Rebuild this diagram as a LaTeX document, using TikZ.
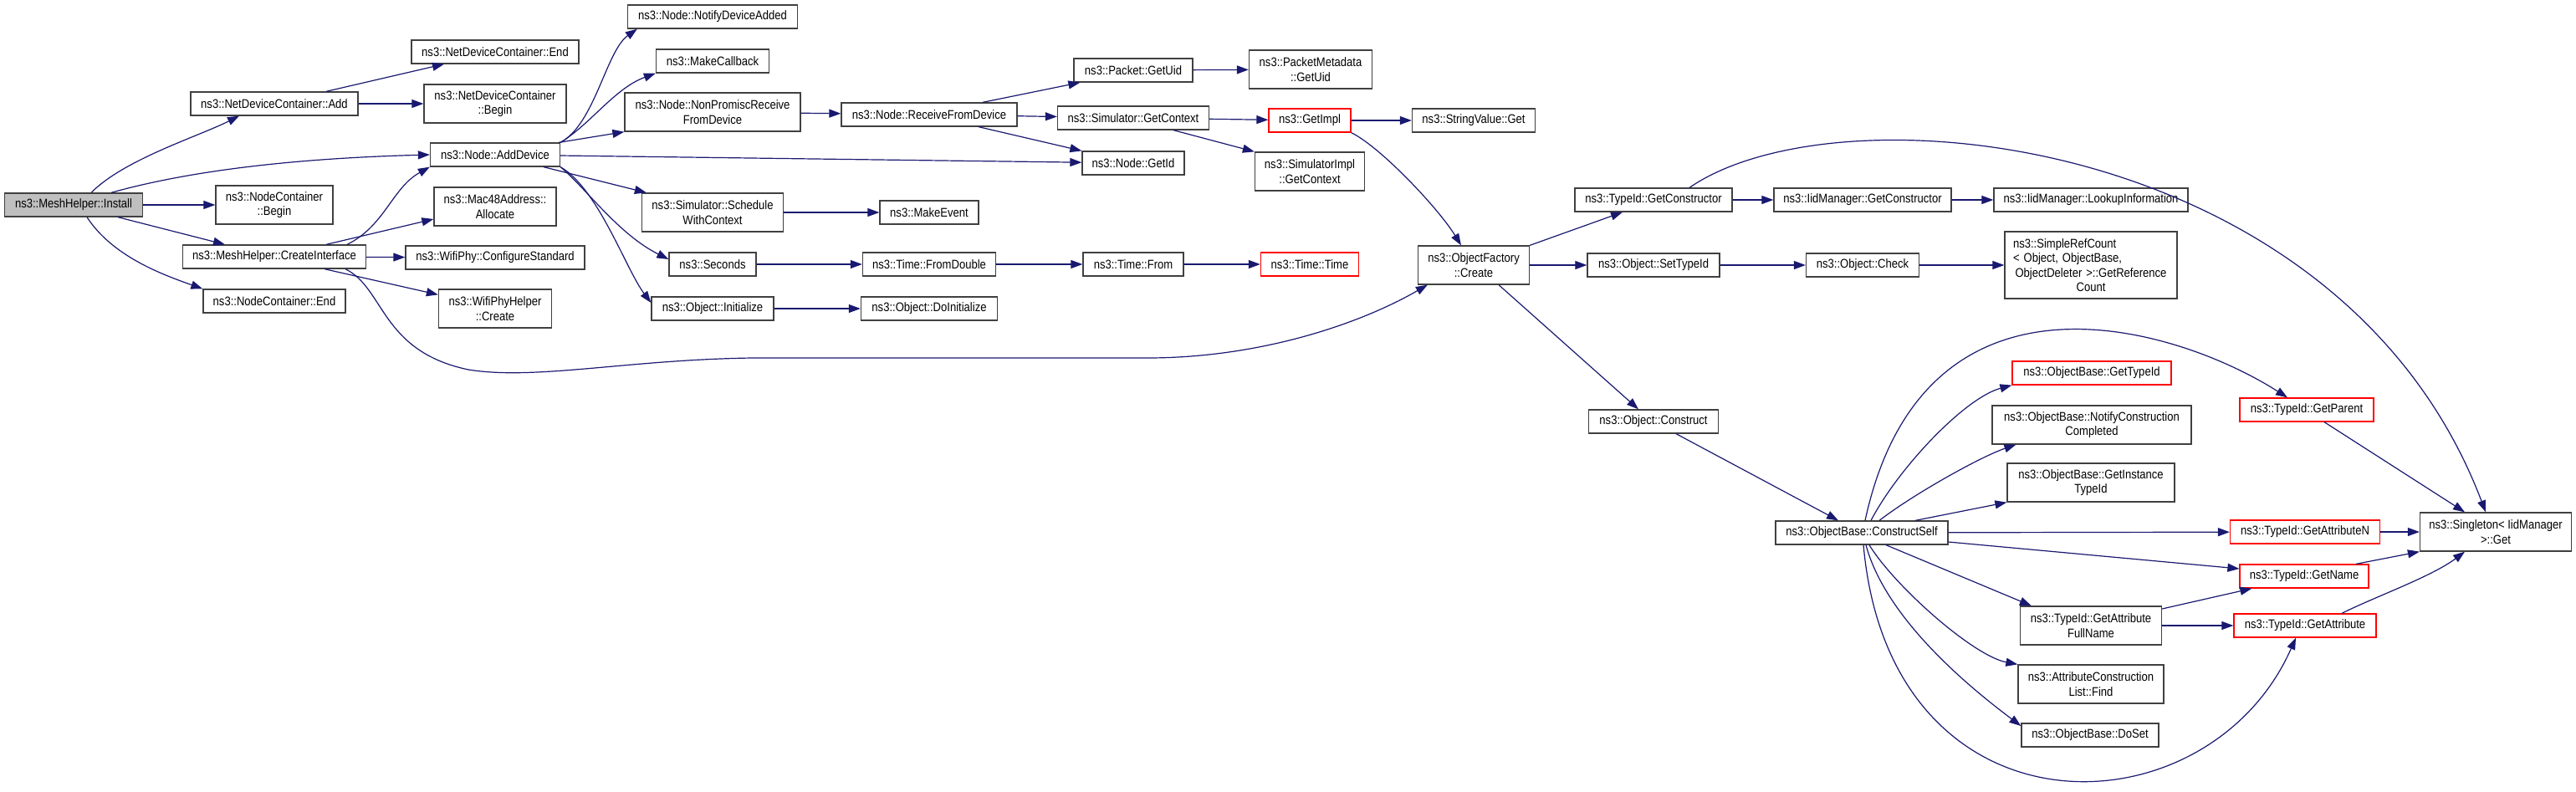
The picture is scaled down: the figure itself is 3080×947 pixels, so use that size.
\documentclass[tikz,border=0pt]{standalone}
\usepackage{fontspec}
\setmainfont{Liberation Sans}[FakeStretch=0.87]
\usetikzlibrary{arrows.meta}
\definecolor{edgeblue}{HTML}{191970}
\definecolor{boxgray}{HTML}{404040}
\definecolor{rootgray}{HTML}{BFBFBF}
\definecolor{boxred}{HTML}{FF0000}

\begin{document}
\begin{tikzpicture}[x=1pt, y=-1pt,
    every node/.style={font=\fontsize{15}{17.5}\selectfont},
    fnbox/.style={draw=boxgray, line width=1.3pt, fill=white, minimum height=28pt, inner sep=3pt, align=center},
    fnred/.style={fnbox, draw=boxred},
    fnroot/.style={fnbox, fill=rootgray},
    call/.style={draw=edgeblue, line width=1.2pt, -{Triangle[length=14pt,width=10pt]}}]

    \useasboundingbox (0,0) rectangle (3080,947);

    % --- Colonna 1-3: MeshHelper ---
    \node[fnroot, minimum width=165pt] (inst) at (88,245) {ns3::MeshHelper::Install};
    \node[fnbox, minimum width=200pt] (ndcadd) at (328,124) {ns3::NetDeviceContainer::Add};
    \node[fnbox, minimum width=140pt, minimum height=46pt] (ncbegin) at (328,245) {ns3::NodeContainer\\::Begin};
    \node[fnbox, minimum width=219pt] (cif) at (328,307) {ns3::MeshHelper::CreateInterface};
    \node[fnbox, minimum width=170pt] (ncend) at (328,360) {ns3::NodeContainer::End};

    \node[fnbox, minimum width=200pt] (ndcend) at (592,62) {ns3::NetDeviceContainer::End};
    \node[fnbox, minimum width=170pt, minimum height=46pt] (ndcbegin) at (592,124) {ns3::NetDeviceContainer\\::Begin};
    \node[fnbox, minimum width=155pt] (adddev) at (592,185) {ns3::Node::AddDevice};
    \node[fnbox, minimum width=146pt, minimum height=46pt] (macalloc) at (592,247) {ns3::Mac48Address::\\Allocate};
    \node[fnbox, minimum width=214pt] (wificonf) at (592,308) {ns3::WifiPhy::ConfigureStandard};
    \node[fnbox, minimum width=135pt, minimum height=46pt] (wificreate) at (592,369) {ns3::WifiPhyHelper\\::Create};

    % --- Colonna 4-8: Node, Simulator, Time ---
    \node[fnbox, minimum width=203pt] (notify) at (852,20) {ns3::Node::NotifyDeviceAdded};
    \node[fnbox, minimum width=135pt] (makecb) at (852,73) {ns3::MakeCallback};
    \node[fnbox, minimum width=210pt, minimum height=46pt] (nonprom) at (852,134) {ns3::Node::NonPromiscReceive\\FromDevice};
    \node[fnbox, minimum width=169pt, minimum height=46pt] (sched) at (852,254) {ns3::Simulator::Schedule\\WithContext};
    \node[fnbox, minimum width=104pt] (seconds) at (852,316) {ns3::Seconds};
    \node[fnbox, minimum width=146pt] (objinit) at (852,369) {ns3::Object::Initialize};

    \node[fnbox, minimum width=210pt] (recv) at (1111,137) {ns3::Node::ReceiveFromDevice};
    \node[fnbox, minimum width=118pt] (makeevent) at (1111,254) {ns3::MakeEvent};
    \node[fnbox, minimum width=159pt] (fromdouble) at (1111,316) {ns3::Time::FromDouble};
    \node[fnbox, minimum width=163pt] (doinit) at (1111,369) {ns3::Object::DoInitialize};

    \node[fnbox, minimum width=142pt] (pktuid) at (1355,84) {ns3::Packet::GetUid};
    \node[fnbox, minimum width=181pt] (simctx) at (1355,141) {ns3::Simulator::GetContext};
    \node[fnbox, minimum width=122pt] (getid) at (1355,195) {ns3::Node::GetId};
    \node[fnbox, minimum width=120pt] (timefrom) at (1355,316) {ns3::Time::From};

    \node[fnbox, minimum width=147pt, minimum height=46pt] (pmuid) at (1567,83) {ns3::PacketMetadata\\::GetUid};
    \node[fnred, minimum width=98pt] (getimpl) at (1566,144) {ns3::GetImpl};
    \node[fnbox, minimum width=131pt, minimum height=46pt] (simimplctx) at (1566,205) {ns3::SimulatorImpl\\::GetContext};
    \node[fnred, minimum width=117pt] (timetime) at (1566,316) {ns3::Time::Time};

    \node[fnbox, minimum width=147pt] (strget) at (1762,144) {ns3::StringValue::Get};
    \node[fnbox, minimum width=133pt, minimum height=46pt] (ofcreate) at (1762,317) {ns3::ObjectFactory\\::Create};

    % --- Colonna 9-13: Object, TypeId ---
    \node[fnbox, minimum width=188pt] (tidctor) at (1977,239) {ns3::TypeId::GetConstructor};
    \node[fnbox, minimum width=158pt] (settypeid) at (1977,317) {ns3::Object::SetTypeId};
    \node[fnbox, minimum width=155pt] (objconstruct) at (1977,504) {ns3::Object::Construct};

    \node[fnbox, minimum width=212pt] (iidctor) at (2227,239) {ns3::IidManager::GetConstructor};
    \node[fnbox, minimum width=135pt] (objcheck) at (2227,317) {ns3::Object::Check};
    \node[fnbox, minimum width=206pt] (cself) at (2226,637) {ns3::ObjectBase::ConstructSelf};

    \node[fnbox, minimum width=232pt] (lookup) at (2500,239) {ns3::IidManager::LookupInformation};
    \node[fnbox, minimum width=206pt, minimum height=80pt, text width=186pt, align=left] (simpleref) at (2500,317)
    {ns3::SimpleRefCount\\ < Object, ObjectBase,\\ \makebox[186pt]{ObjectDeleter >::GetReference}\\ \makebox[186pt]{Count}};
    \node[fnred, minimum width=190pt] (gettypeid) at (2501,446) {ns3::ObjectBase::GetTypeId};
    \node[fnbox, minimum width=238pt, minimum height=46pt] (notifycc) at (2501,508) {ns3::ObjectBase::NotifyConstruction\\Completed};
    \node[fnbox, minimum width=200pt, minimum height=46pt] (insttid) at (2500,577) {ns3::ObjectBase::GetInstance\\TypeId};
    \node[fnbox, minimum width=169pt, minimum height=46pt] (fullname) at (2500,748) {ns3::TypeId::GetAttribute\\FullName};
    \node[fnbox, minimum width=174pt, minimum height=46pt] (attrfind) at (2500,818) {ns3::AttributeConstruction\\List::Find};
    \node[fnbox, minimum width=164pt] (doset) at (2499,879) {ns3::ObjectBase::DoSet};

    \node[fnred, minimum width=160pt] (getparent) at (2758,490) {ns3::TypeId::GetParent};
    \node[fnred, minimum width=179pt] (getattrn) at (2756,636) {ns3::TypeId::GetAttributeN};
    \node[fnred, minimum width=154pt] (getname) at (2755,689) {ns3::TypeId::GetName};
    \node[fnred, minimum width=170pt] (getattr) at (2756,748) {ns3::TypeId::GetAttribute};
    \node[fnbox, minimum width=181pt, minimum height=46pt] (singleton) at (2984,636) {ns3::Singleton< IidManager\\>::Get};

    % --- Chiamate: MeshHelper ---
    \draw[call] ([xshift=21pt]inst.north) .. controls +(40,-40) and +(-50,25) .. ([xshift=-42pt]ndcadd.south);
    \draw[call] ([xshift=45pt]inst.north) .. controls +(100,-28) and +(-151,4) .. (adddev.west);
    \draw[call] (inst) -- (ncbegin);
    \draw[call] ([xshift=53pt]inst.south) -- ([xshift=-59pt]cif.north);
    \draw[call] ([xshift=16pt]inst.south) .. controls +(30,46) and +(-51,-18) .. (ncend.north west);
    \draw[call] ([xshift=62pt]ndcadd.north) -- ([xshift=-61pt]ndcend.south);
    \draw[call] (ndcadd) -- (ndcbegin);
    \draw[call] ([xshift=87pt]cif.north) .. controls +(45,-22) and +(-45,25) .. (adddev.south west);
    \draw[call] ([xshift=62pt]cif.north) -- ([yshift=-15pt]macalloc.west);
    \draw[call] (cif) -- (wificonf);
    \draw[call] ([xshift=60pt]cif.south) -- ([yshift=-7pt]wificreate.north west);
    \draw[call] ([xshift=85pt]cif.south) .. controls +(47,23) and +(-105,-22) .. (560,442)
    .. controls +(80,13) and +(-150,2) .. (900,428) -- (1372,428)
    .. controls +(128,0) and +(-87,50) .. ([xshift=12pt]ofcreate.south west);

    % --- Chiamate: Node::AddDevice ---
    \draw[call] (adddev.north east) .. controls +(41,-22) and +(-37,26) .. ([xshift=12pt]notify.south west);
    \draw[call] (adddev.north east) .. controls +(36,-22) and +(-49,18) .. (makecb.south west);
    \draw[call] ([xshift=-2pt]adddev.north east) -- (nonprom.south west);
    \draw[call] (adddev) -- (getid);
    \draw[call] ([xshift=58pt]adddev.south) -- ([xshift=6pt]sched.north west);
    \draw[call] (adddev.south east) .. controls +(31,26) and +(-60,-30) .. ([yshift=6pt]seconds.west);
    \draw[call] (adddev.south east) .. controls +(45,26) and +(-30,-40) .. ([yshift=7pt]objinit.west);

    \draw[call] (nonprom) -- (recv);
    \draw[call] ([xshift=64pt]recv.north) -- ([xshift=8pt]pktuid.south west);
    \draw[call] (recv) -- (simctx);
    \draw[call] ([xshift=59pt]recv.south) -- (getid.north west);
    \draw[call] (sched) -- (makeevent);
    \draw[call] (seconds) -- (fromdouble);
    \draw[call] (fromdouble) -- (timefrom);
    \draw[call] (objinit) -- (doinit);
    \draw[call] (pktuid) -- (pmuid);
    \draw[call] (simctx) -- (getimpl);
    \draw[call] ([xshift=48pt]simctx.south) -- (simimplctx.north west);
    \draw[call] (timefrom) -- (timetime);
    \draw[call] (getimpl) -- (strget);
    \draw[call] (getimpl.south east) .. controls +(35,17) and +(-27,-44) .. ([xshift=-15pt]ofcreate.north);

    % --- Chiamate: ObjectFactory, TypeId ---
    \draw[call] (ofcreate.north east) -- ([xshift=-37pt]tidctor.south);
    \draw[call] (ofcreate) -- (settypeid);
    \draw[call] ([xshift=30pt]ofcreate.south) -- ([xshift=-18pt]objconstruct.north);
    \draw[call] (tidctor) -- (iidctor);
    \draw[call] ([xshift=43pt]tidctor.north) .. controls +(180,-124) and +(-172,-453) .. ([xshift=-12pt]singleton.north);
    \draw[call] (iidctor) -- (lookup);
    \draw[call] (settypeid) -- (objcheck);
    \draw[call] (objcheck) -- (simpleref);
    \draw[call] ([xshift=27pt]objconstruct.south) -- ([xshift=-28pt]cself.north);

    % --- Chiamate: ObjectBase::ConstructSelf ---
    \draw[call] ([xshift=4pt]cself.north) .. controls +(70,-323) and +(-135,-86) .. ([xshift=-23pt]getparent.north);
    \draw[call] ([xshift=11pt]cself.north) .. controls +(33,-63) and +(-56,15) .. (gettypeid.south west);
    \draw[call] ([xshift=21pt]cself.north) .. controls +(43,-33) and +(-41,14) .. ([xshift=29pt]notifycc.south west);
    \draw[call] ([xshift=64pt]cself.north) -- (insttid.south west);
    \draw[call] (cself) -- (getattrn);
    \draw[call] ([yshift=-11pt]cself.east) -- ([yshift=9pt]getname.west);
    \draw[call] ([xshift=29pt]cself.south) -- ([xshift=14pt]fullname.north west);
    \draw[call] ([xshift=9pt]cself.south) .. controls +(30,49) and +(-53,-10) .. (attrfind.north west);
    \draw[call] ([xshift=5pt]cself.south) .. controls +(24,89) and +(-60,-45) .. ([yshift=11pt]doset.west);
    \draw[call] ([xshift=2pt]cself.south) .. controls +(32,359) and +(-105,238) .. ([xshift=-11pt]getattr.south);

    \draw[call] ([xshift=21pt]getparent.south) -- ([xshift=-37pt]singleton.north);
    \draw[call] (getattrn) -- (singleton);
    \draw[call] ([xshift=62pt]getname.north) -- (singleton.south west);
    \draw[call] ([yshift=20pt]fullname.east) -- ([xshift=15pt]getname.south west);
    \draw[call] (fullname) -- (getattr);
    \draw[call] ([xshift=44pt]getattr.north) .. controls +(40,-20) and +(-40,30) .. ([xshift=-37pt]singleton.south);

  \end{tikzpicture}
\end{document}
